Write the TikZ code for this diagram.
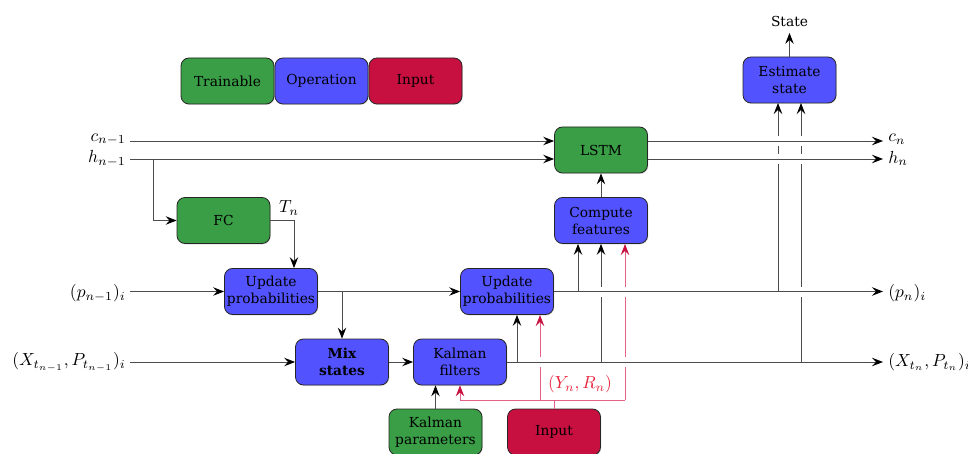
\documentclass[tikz,border=0pt]{standalone}
\usepackage{fontspec}
\newfontfamily\boxfont{DejaVu Serif}
\usetikzlibrary{arrows.meta,shadows}

\definecolor{trainG}{RGB}{58,158,70}
\definecolor{opB}{RGB}{82,82,255}
\definecolor{inR}{RGB}{200,16,64}
\definecolor{flowR}{RGB}{228,96,132}
\definecolor{labR}{RGB}{232,36,60}

\tikzset{
  blk/.style={draw=black!85, line width=0.8pt, rounded corners=8pt,
    minimum width=93pt, minimum height=46pt, inner sep=0pt, align=center,
    font=\boxfont\fontsize{13.8}{17}\selectfont,
    drop shadow={opacity=0.25, shadow xshift=0.8pt, shadow yshift=-1pt}},
  trn/.style={blk, fill=trainG},
  opn/.style={blk, fill=opB},
  inpt/.style={blk, fill=inR},
  wire/.style={line width=0.9pt, black!70},
  arr/.style={wire, -{Stealth[length=11pt,width=8.5pt,inset=4pt,color=black]}},
  rwire/.style={line width=0.9pt, flowR},
  rarr/.style={rwire, -{Stealth[length=11pt,width=8.5pt,inset=4pt,color=inR]}},
  lab/.style={font=\normalsize, inner sep=0pt, scale=1.75, transform shape},
}

\begin{document}
\begin{tikzpicture}[x=1pt,y=-1pt]
\useasboundingbox (0,0) rectangle (968,454);

% legend
\node[trn]  (ltr) at (227.5,81) {Trainable};
\node[opn]  (lop) at (321.5,81) {Operation};
\node[inpt] (lin) at (415.5,81) {Input};

% blocks
\node[trn]  (fc)   at (223.5,220.5) {FC};
\node[opn]  (up1)  at (271,291.5)   {Update\\probabilities};
\node[opn]  (mix)  at (342,362)     {\bfseries Mix\\\bfseries states};
\node[opn]  (kf)   at (460,362)     {Kalman\\filters};
\node[opn]  (up2)  at (507,291.5)   {Update\\probabilities};
\node[trn]  (kp)   at (435.5,432)   {Kalman\\parameters};
\node[inpt] (inp)  at (554,432)     {Input};
\node[opn]  (cf)   at (601,220.5)   {Compute\\features};
\node[trn]  (lstm) at (601,150)     {LSTM};
\node[opn]  (est)  at (789.5,80)    {Estimate\\state};
\node[font=\boxfont\fontsize{13.8}{17}\selectfont, inner xsep=0pt, inner ysep=6pt]
  (state) at (789.5,21.5) {State};

% line ends
\coordinate (cin)  at (130,141);
\coordinate (hin)  at (130,159);
\coordinate (pin)  at (130,291.5);
\coordinate (xin)  at (130,362);
\coordinate (cout) at (883,141);
\coordinate (hout) at (883,159);
\coordinate (pout) at (883,291.5);
\coordinate (xout) at (883,362);

% labels
\node[lab, anchor=east] (lc)  at (126,139.5) {$c_{n-1}$};
\node[lab, anchor=east] (lh)  at (126,158.5) {$h_{n-1}$};
\node[lab, anchor=east] (lp)  at (126,293) {$(p_{n-1})_i$};
\node[lab, anchor=east] (lx)  at (126,362) {$(X_{t_{n-1}},P_{t_{n-1}})_i$};
\node[lab, anchor=west] (rc)  at (888,139.5) {$c_n$};
\node[lab, anchor=west] (rh)  at (888,158.5) {$h_n$};
\node[lab, anchor=west] (rp)  at (888,293) {$(p_n)_i$};
\node[lab, anchor=west] (rx)  at (888,362) {$(X_{t_n},P_{t_n})_i$};
\node[lab] (tn) at (289,208) {$T_n$};
\node[lab, text=labR] (yr) at (580,384) {$(Y_n,R_n)$};

% memory lines through the LSTM
\draw[arr] (cin) -- (cin -| lstm.west);
\draw[arr] (hin) -- (hin -| lstm.west);
\draw[arr] (cout -| lstm.east) -- (cout);
\draw[arr] (hout -| lstm.east) -- (hout);

% FC branch
\coordinate (hb) at (153,159);
\draw[arr] (hb) |- (fc.west);
\coordinate (tcol) at (294,0);
\draw[arr] (fc.east) -| (tcol |- up1.north);

% probability path
\draw[arr] (pin) -- (up1.west);
\draw[arr] (up1.east) -- (up2.west);
\coordinate (pb) at (mix.north |- up1.east);
\draw[arr] (pb) -- (mix.north);
\draw[arr] (up2.east) -- (pout);

% state path
\draw[arr] (xin) -- (mix.west);
\draw[arr] (mix.east) -- (kf.west);
\draw[arr] (kf.east) -- (xout);
\coordinate (kb) at (517,362);
\draw[arr] (kb) -- (kb |- up2.south);
\draw[arr] (kp.north) -- (kp.north |- kf.south);

% into compute features
\coordinate (pa) at (578,291.5);
\draw[arr] (pa) -- (pa |- cf.south);
\coordinate (xa) at (601,362);
\draw[wire] (xa) -- (601,297);
\draw[arr] (601,287) -- (cf.south);
\draw[arr] (cf.north) -- (lstm.south);

% into the state estimate (hopping over crossed lines)
\coordinate (pe) at (778,291.5);
\draw[wire] (pe) -- (778,164) (778,154) -- (778,146);
\draw[arr] (778,136) -- (778,103);
\coordinate (xe) at (801,362);
\draw[wire] (xe) -- (801,297) (801,287) -- (801,164) (801,154) -- (801,146);
\draw[arr] (801,136) -- (801,103);
\draw[arr] (est.north) -- (state.south);

% measurement input
\coordinate (ry) at (554,400);
\coordinate (ryl) at (460,400);
\coordinate (ryr) at (625,400);
\coordinate (rym) at (540,400);
\draw[rwire] (inp.north) -- (ry);
\draw[rwire] (ryl) -- (ryr);
\draw[rarr] (ryl) -- (kf.south);
\draw[rwire] (rym) -- (540,367);
\draw[rarr] (540,357) -- (540,315);
\draw[rwire] (ryr) -- (625,367) (625,357) -- (625,297);
\draw[rarr] (625,287) -- (625,244);
\end{tikzpicture}
\end{document}
